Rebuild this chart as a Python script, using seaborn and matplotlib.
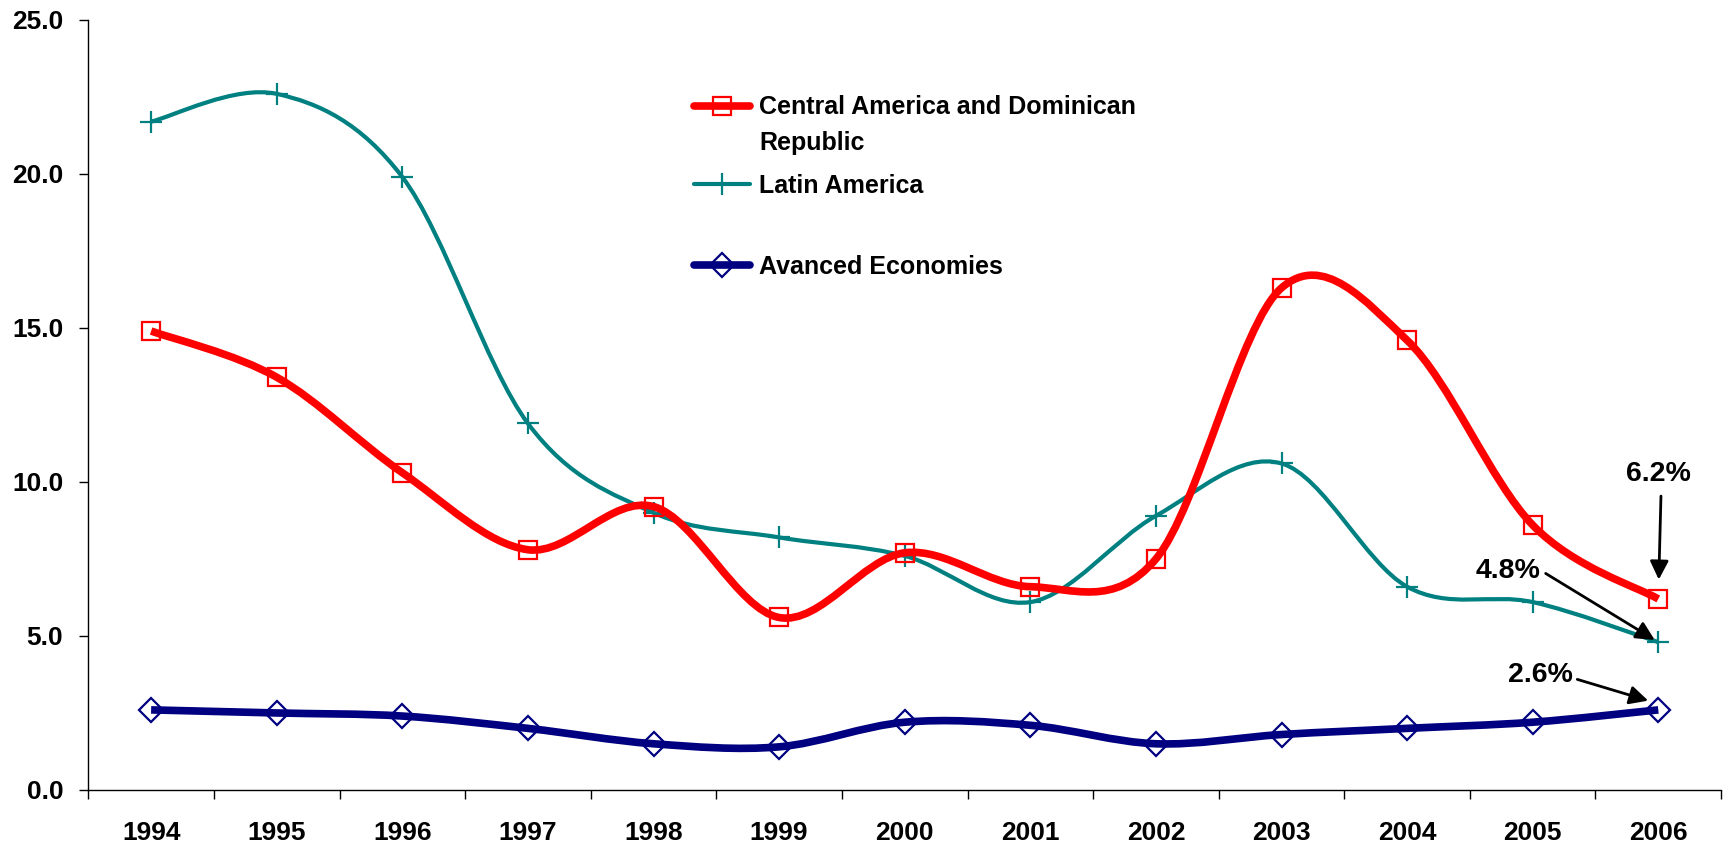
import numpy as np
import pandas as pd
import matplotlib
matplotlib.use("Agg")
import matplotlib.pyplot as plt
import seaborn as sns
from matplotlib.path import Path
from matplotlib.patches import PathPatch
from matplotlib.lines import Line2D

# ---- data ----
years = ['1994', '1995', '1996', '1997', '1998', '1999', '2000',
         '2001', '2002', '2003', '2004', '2005', '2006']
ca_dr = [14.9, 13.4, 10.3, 7.8, 9.2, 5.6, 7.7, 6.6, 7.5, 16.3, 14.6, 8.6, 6.2]
latam = [21.7, 22.6, 19.9, 11.9, 9.0, 8.2, 7.6, 6.1, 8.9, 10.6, 6.6, 6.1, 4.8]
advanced = [2.6, 2.5, 2.4, 2.0, 1.5, 1.4, 2.2, 2.1, 1.5, 1.8, 2.0, 2.2, 2.6]
series_names = ['Central America and Dominican Republic', 'Latin America',
                'Avanced Economies']
y_ticks = [0, 5, 10, 15, 20, 25]
end_labels = ['6.2%', '4.8%', '2.6%']

sns.set_style("ticks")
plt.rcParams['font.family'] = ['Liberation Sans', 'DejaVu Sans']
plt.rcParams['font.weight'] = 'bold'
for k in ['text.color', 'axes.labelcolor', 'xtick.color', 'ytick.color',
          'axes.edgecolor']:
    plt.rcParams[k] = 'black'

df = pd.DataFrame({'year': years, 'idx': np.arange(len(years)),
                   series_names[0]: ca_dr, series_names[1]: latam,
                   series_names[2]: advanced})

fig = plt.figure(figsize=(17.32, 8.52), dpi=100)
ax = fig.add_axes([0.051, 0.0728, 0.9427, 0.9038])


def smooth_path(x, y):
    pts = np.column_stack([x, y]).astype(float)
    n = len(pts)
    verts = [pts[0]]
    codes = [Path.MOVETO]
    for i in range(n - 1):
        p0 = pts[i - 1] if i > 0 else pts[i]
        p1 = pts[i]
        p2 = pts[i + 1]
        p3 = pts[i + 2] if i + 2 < n else pts[i + 1]
        c1 = p1 + (p2 - p0) / 6.0
        c2 = p2 - (p3 - p1) / 6.0
        verts += [c1, c2, p2]
        codes += [Path.CURVE4] * 3
    return Path(verts, codes)


styles = [
    dict(color='#FF0000', lw=5.5, marker='s', ms=13, mew=1.6, z=5),
    dict(color='#008080', lw=3.0, marker='+', ms=16, mew=1.6, z=4),
    dict(color='#000080', lw=5.5, marker='D', ms=12, mew=1.6, z=3),
]

for name, st in zip(series_names, styles):
    patch = PathPatch(smooth_path(df['idx'], df[name]), facecolor='none',
                      edgecolor=st['color'], lw=st['lw'], zorder=st['z'],
                      capstyle='butt', joinstyle='round')
    ax.add_patch(patch)
    sns.lineplot(data=df, x='idx', y=name, ax=ax, linestyle='', lw=0,
                 marker=st['marker'], markersize=st['ms'],
                 markerfacecolor='none', markeredgecolor=st['color'],
                 markeredgewidth=st['mew'], color=st['color'],
                 zorder=st['z'] + 0.5, legend=False)

ax.set_xlim(-0.5, len(years) - 0.5)
ax.set_ylim(0, 25)
ax.set_xticks(np.arange(len(years)))
ax.set_xticklabels(years)
ax.set_xticks(np.arange(-0.5, len(years), 1.0), minor=True)
ax.set_yticks(y_ticks)
ax.set_yticklabels([f'{v:.1f}' for v in y_ticks])
ax.tick_params(axis='x', which='major', length=0, pad=22, labelsize=19)
ax.tick_params(axis='x', which='minor', length=6.5, width=1, color='black',
               direction='out')
ax.tick_params(axis='y', length=6.5, width=1, color='black', direction='out',
               pad=11.5, labelsize=19)
for lab in ax.get_xticklabels() + ax.get_yticklabels():
    lab.set_fontweight('bold')
    lab.set_color('black')
ax.set_xlabel('')
ax.set_ylabel('')
for s in ['top', 'right']:
    ax.spines[s].set_visible(False)
for s in ['left', 'bottom']:
    ax.spines[s].set_color('black')
    ax.spines[s].set_linewidth(1.0)

# ---- annotations ----
last = len(years) - 1
arrow = dict(arrowstyle='-|>', color='black', lw=2, mutation_scale=28)
ax.annotate(end_labels[0], xy=(last, ca_dr[-1]), xytext=(last + 0.0, 10.25),
            ha='center', va='center', fontsize=20.5, fontweight='bold',
            color='black',
            arrowprops=dict(**arrow, shrinkA=4, shrinkB=14,
                            relpos=(0.55, 0.5)), zorder=10)
ax.annotate(end_labels[1], xy=(last, latam[-1]), xytext=(10.8, 7.1),
            ha='center', va='center', fontsize=20.5, fontweight='bold',
            color='black',
            arrowprops=dict(**arrow, shrinkA=2, shrinkB=3,
                            relpos=(1.0, 0.55)), zorder=10)
ax.annotate(end_labels[2], xy=(last - 0.08, advanced[-1] + 0.3),
            xytext=(11.06, 3.72),
            ha='center', va='center', fontsize=20.5, fontweight='bold',
            color='black',
            arrowprops=dict(**arrow, shrinkA=1, shrinkB=0,
                            relpos=(1.0, 0.4)), zorder=10)

# ---- legend ----
handles = []
for name, st in zip(series_names, styles):
    handles.append(Line2D([], [], color=st['color'], lw=st['lw'],
                          marker=st['marker'], markersize=st['ms'],
                          markerfacecolor='none',
                          markeredgecolor=st['color'],
                          markeredgewidth=st['mew']))
blank = Line2D([], [], linestyle='none')
leg_kw = dict(loc='upper left', frameon=False, fontsize=18,
              handlelength=2.24, handletextpad=0.35, borderpad=0,
              borderaxespad=0)
leg1 = ax.legend([handles[0], blank],
                 ['Central America and Dominican', 'Republic'],
                 bbox_to_anchor=(0.3712, 0.902), labelspacing=0.45, **leg_kw)
for t in leg1.get_texts():
    t.set_fontweight('bold')
    t.set_color('black')
ax.add_artist(leg1)
leg2 = ax.legend([handles[1], handles[2]], [series_names[1], series_names[2]],
                 bbox_to_anchor=(0.3712, 0.7997), labelspacing=2.27, **leg_kw)
for t in leg2.get_texts():
    t.set_fontweight('bold')
    t.set_color('black')

fig.savefig('out.png', dpi=100)
